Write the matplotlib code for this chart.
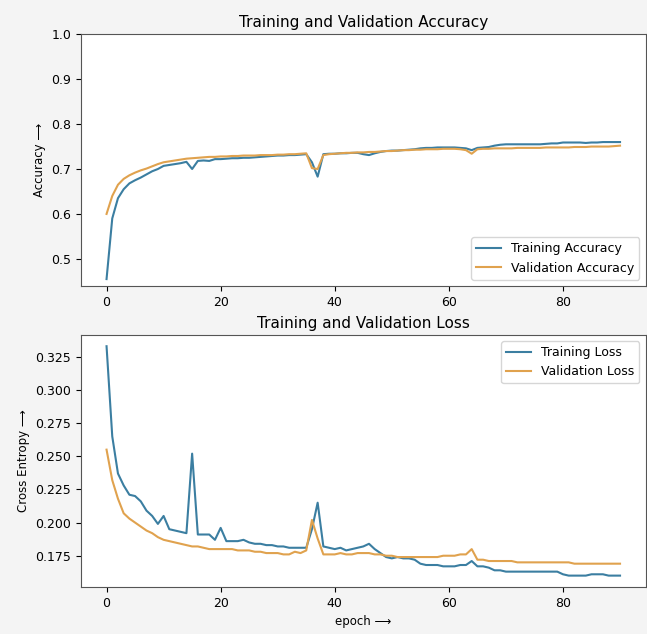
import matplotlib
matplotlib.use("Agg")
import matplotlib.pyplot as plt
import numpy as np

epochs = list(range(91))

train_acc = [0.455, 0.590, 0.635, 0.655, 0.668, 0.675, 0.681, 0.688, 0.695, 0.700,
             0.707, 0.709, 0.711, 0.713, 0.716, 0.700, 0.718, 0.719, 0.718, 0.722,
             0.722, 0.723, 0.724, 0.724, 0.725, 0.725, 0.726, 0.727, 0.728, 0.729,
             0.730, 0.730, 0.731, 0.731, 0.732, 0.733, 0.715, 0.683, 0.733, 0.734,
             0.734, 0.735, 0.735, 0.736, 0.736, 0.733, 0.731, 0.735, 0.738, 0.740,
             0.741, 0.741, 0.742, 0.743, 0.744, 0.746, 0.747, 0.747, 0.748, 0.748,
             0.748, 0.748, 0.747, 0.746, 0.742, 0.747, 0.748, 0.749, 0.752, 0.754,
             0.755, 0.755, 0.755, 0.755, 0.755, 0.755, 0.755, 0.756, 0.757, 0.757,
             0.759, 0.759, 0.759, 0.759, 0.758, 0.759, 0.759, 0.760, 0.760, 0.760,
             0.760]
val_acc = [0.600, 0.640, 0.665, 0.678, 0.686, 0.692, 0.697, 0.701, 0.706, 0.711,
           0.715, 0.717, 0.719, 0.721, 0.723, 0.724, 0.725, 0.726, 0.727, 0.727,
           0.728, 0.728, 0.729, 0.729, 0.730, 0.730, 0.730, 0.731, 0.731, 0.731,
           0.732, 0.732, 0.733, 0.733, 0.734, 0.735, 0.702, 0.700, 0.731, 0.733,
           0.734, 0.735, 0.736, 0.736, 0.737, 0.737, 0.738, 0.738, 0.739, 0.740,
           0.740, 0.741, 0.742, 0.742, 0.743, 0.743, 0.744, 0.744, 0.744, 0.745,
           0.745, 0.745, 0.744, 0.742, 0.734, 0.744, 0.745, 0.745, 0.746, 0.746,
           0.746, 0.746, 0.747, 0.747, 0.747, 0.747, 0.747, 0.748, 0.748, 0.748,
           0.748, 0.748, 0.749, 0.749, 0.749, 0.750, 0.750, 0.750, 0.750, 0.751,
           0.752]

train_loss = [0.333, 0.265, 0.237, 0.228, 0.221, 0.220, 0.216, 0.209, 0.205, 0.199,
              0.205, 0.195, 0.194, 0.193, 0.192, 0.252, 0.191, 0.191, 0.191, 0.187,
              0.196, 0.186, 0.186, 0.186, 0.187, 0.185, 0.184, 0.184, 0.183, 0.183,
              0.182, 0.182, 0.181, 0.181, 0.181, 0.181, 0.195, 0.215, 0.182, 0.181,
              0.180, 0.181, 0.179, 0.180, 0.181, 0.182, 0.184, 0.180, 0.177, 0.174,
              0.173, 0.174, 0.173, 0.173, 0.172, 0.169, 0.168, 0.168, 0.168, 0.167,
              0.167, 0.167, 0.168, 0.168, 0.171, 0.167, 0.167, 0.166, 0.164, 0.164,
              0.163, 0.163, 0.163, 0.163, 0.163, 0.163, 0.163, 0.163, 0.163, 0.163,
              0.161, 0.160, 0.160, 0.160, 0.160, 0.161, 0.161, 0.161, 0.160, 0.160,
              0.160]
val_loss = [0.255, 0.232, 0.218, 0.207, 0.203, 0.200, 0.197, 0.194, 0.192, 0.189,
            0.187, 0.186, 0.185, 0.184, 0.183, 0.182, 0.182, 0.181, 0.180, 0.180,
            0.180, 0.180, 0.180, 0.179, 0.179, 0.179, 0.178, 0.178, 0.177, 0.177,
            0.177, 0.176, 0.176, 0.178, 0.177, 0.179, 0.202, 0.188, 0.176, 0.176,
            0.176, 0.177, 0.176, 0.176, 0.177, 0.177, 0.177, 0.176, 0.176, 0.175,
            0.175, 0.174, 0.174, 0.174, 0.174, 0.174, 0.174, 0.174, 0.174, 0.175,
            0.175, 0.175, 0.176, 0.176, 0.180, 0.172, 0.172, 0.171, 0.171, 0.171,
            0.171, 0.171, 0.170, 0.170, 0.170, 0.170, 0.170, 0.170, 0.170, 0.170,
            0.170, 0.170, 0.169, 0.169, 0.169, 0.169, 0.169, 0.169, 0.169, 0.169,
            0.169]

c_train = '#3b7ea1'
c_val = '#e0a24e'
arrow = '\u27f6'

fig = plt.figure(figsize=(6.47, 6.34), dpi=100, facecolor='#f4f4f4')
ax1 = fig.add_axes([0.125, 0.549, 0.873, 0.397])
ax2 = fig.add_axes([0.125, 0.074, 0.873, 0.398])

ax1.plot(epochs, train_acc, color=c_train, lw=1.5, label='Training Accuracy')
ax1.plot(epochs, val_acc, color=c_val, lw=1.5, label='Validation Accuracy')
ax1.set_ylim(min(ax1.get_ylim()), 1.0)
ax1.set_ylabel('Accuracy ' + arrow, fontsize=8.5)
ax1.set_title('Training and Validation Accuracy', fontsize=11, pad=5)
ax1.legend(loc='lower right', fontsize=9)

ax2.plot(epochs, train_loss, color=c_train, lw=1.5, label='Training Loss')
ax2.plot(epochs, val_loss, color=c_val, lw=1.5, label='Validation Loss')
ax2.set_ylabel('Cross Entropy ' + arrow, fontsize=8.5)
ax2.set_xlabel('epoch ' + arrow, fontsize=8.5)
ax2.set_title('Training and Validation Loss', fontsize=11, pad=5)
ax2.legend(loc='upper right', fontsize=9)

for ax in (ax1, ax2):
    ax.tick_params(labelsize=9)
    for s in ax.spines.values():
        s.set_color('#555555')

fig.savefig('out.png', dpi=100, facecolor=fig.get_facecolor())
